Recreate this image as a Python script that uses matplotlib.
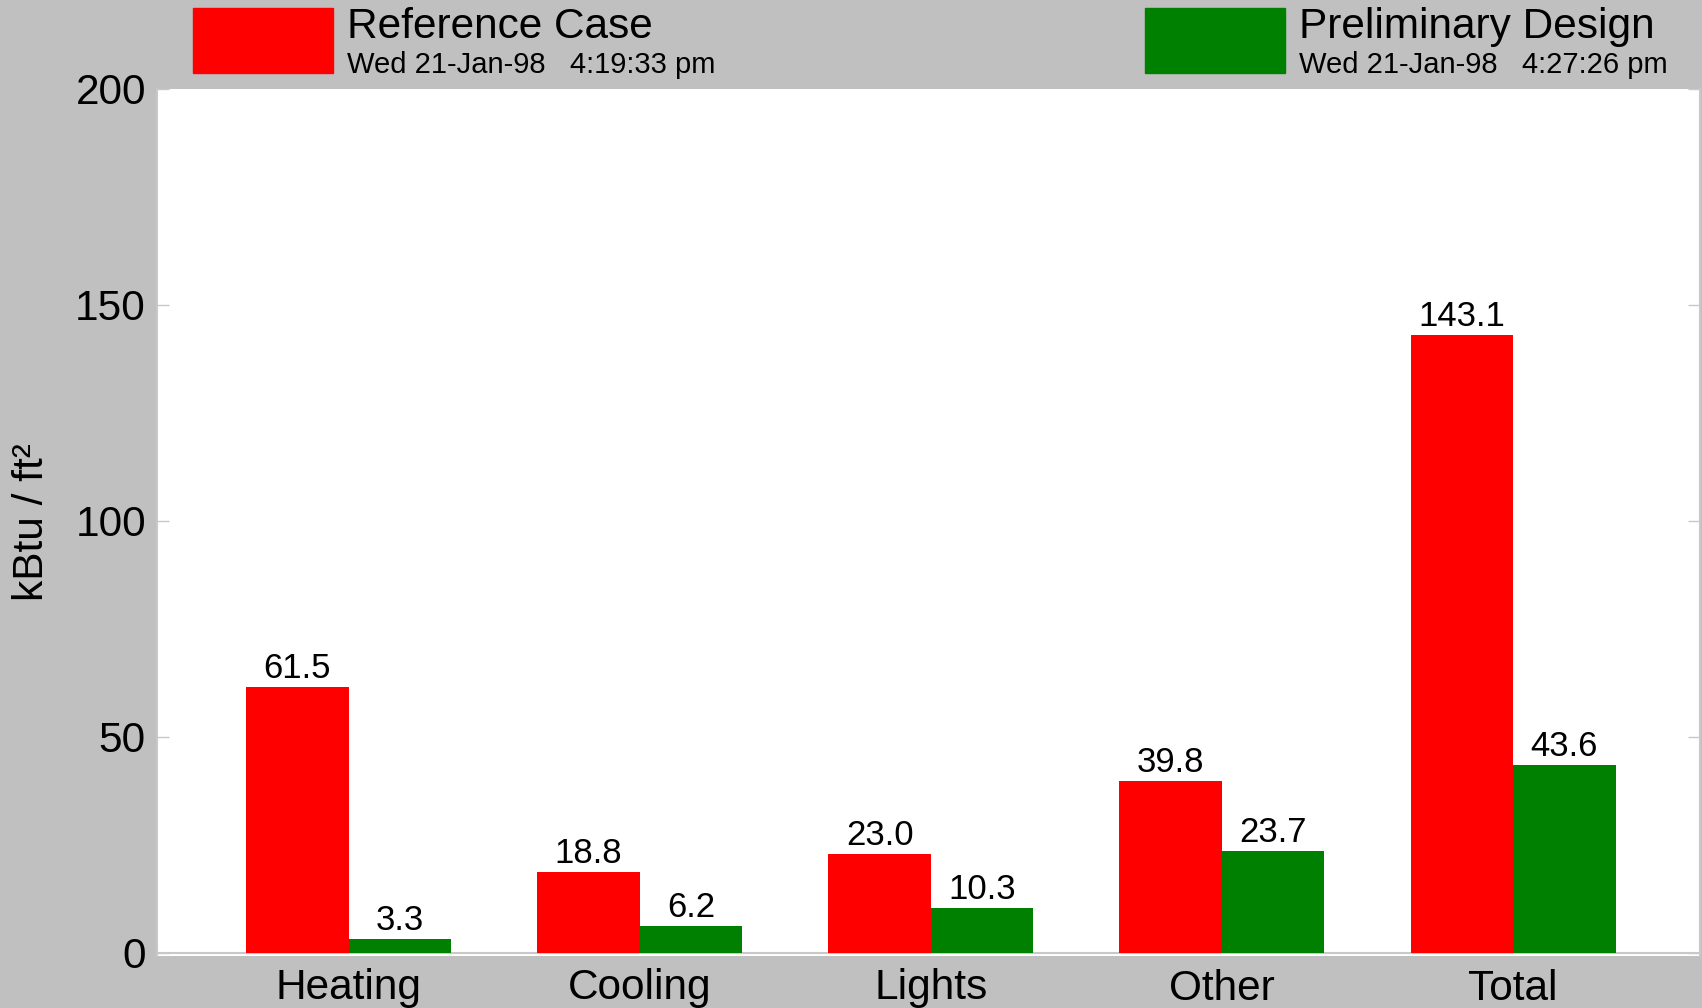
import matplotlib.pyplot as plt
import numpy as np
from matplotlib.patches import Rectangle

plt.rcParams['font.family'] = ['Liberation Sans', 'DejaVu Sans']

# data ----------
categories = ["Heating", "Cooling", "Lights", "Other", "Total"]
reference = [61.5, 18.8, 23.0, 39.8, 143.1]
preliminary = [3.3, 6.2, 10.3, 23.7, 43.6]
series_names = ["Reference Case", "Preliminary Design"]
series_stamps = ["Wed 21-Jan-98   4:19:33 pm", "Wed 21-Jan-98   4:27:26 pm"]
y_ticks = [0, 50, 100, 150, 200]

bg = "#c0c0c0"
red = "#ff0000"
green = "#008000"
axis_gray = "#c8c8c8"

fig = plt.figure(figsize=(17.02, 10.08), dpi=100, facecolor=bg)
ax = fig.add_axes([157 / 1702, 52 / 1008, 1543 / 1702, 867 / 1008])
ax.set_facecolor("white")

x = np.arange(len(categories))
w = 0.352
bars_r = ax.bar(x - w / 2, reference, w, color=red, edgecolor="none")
bars_g = ax.bar(x + w / 2, preliminary, w, color=green, edgecolor="none")

# value labels
for bars, vals in [(bars_r, reference), (bars_g, preliminary)]:
    for b, v in zip(bars, vals):
        ax.annotate(f"{v:.1f}", (b.get_x() + b.get_width() / 2, v),
                    xytext=(0, 1.5), textcoords="offset points",
                    ha="center", va="bottom", fontsize=25)

ax.set_xlim(-0.658, 4.642)
ax.set_ylim(-0.7, 200)
ax.axhline(0, color=axis_gray, lw=1.5, zorder=0.5)

ax.set_xticks(x)
ax.set_xticklabels(categories, fontsize=30.5)
ax.tick_params(axis="x", length=0, pad=9)
ax.set_yticks(y_ticks)
ax.set_yticklabels([str(t) for t in y_ticks], fontsize=30.5)
ax.tick_params(axis="y", direction="in", length=8.6, width=1, color=axis_gray,
               right=True, pad=8)
ax.set_ylabel("kBtu / ft²", fontsize=30.5, labelpad=17)

for s in ["top", "bottom"]:
    ax.spines[s].set_visible(False)
for s in ["left", "right"]:
    ax.spines[s].set_color(axis_gray)
    ax.spines[s].set_linewidth(1.5)

# legend at the top ----------
box_x = [193, 1145]
cols = [red, green]
for bx, c, name, stamp in zip(box_x, cols, series_names, series_stamps):
    fig.patches.append(Rectangle((bx / 1702, 1 - 73 / 1008), 140 / 1702, 65 / 1008,
                                 transform=fig.transFigure, color=c))
    fig.text((bx + 154) / 1702, 1 - 38 / 1008, name, fontsize=30.5, va="baseline")
    fig.text((bx + 154) / 1702, 1 - 73 / 1008, stamp, fontsize=21, va="baseline")

plt.savefig("out.png", dpi=100, facecolor=bg)
